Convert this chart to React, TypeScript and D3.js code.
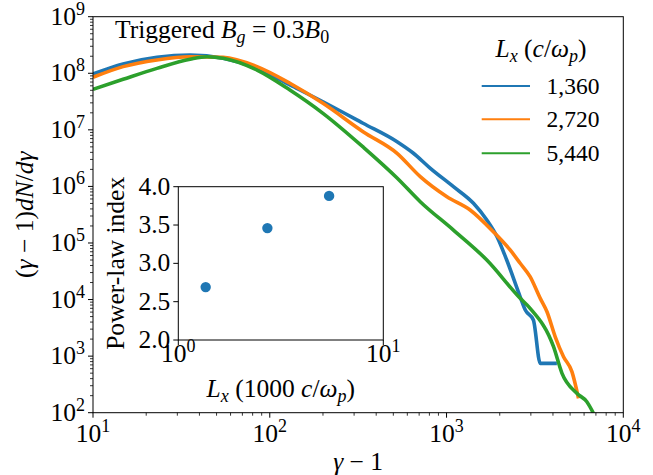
import React from 'react';
import * as d3 from 'd3';

// ---- data ----
const seriesLabels = ['1,360', '2,720', '5,440'];
const seriesColors = ['#1f77b4', '#ff7f0e', '#2ca02c'];

const blueGamma = [10, 14.8, 23.0, 35.4, 54.5, 84.7, 130, 200, 337, 525, 647, 807, 1094, 1420, 1690, 1930, 2190, 2610, 2790, 3100, 3390, 4210];
const blueDist = [9.7e7, 1.46e8, 1.91e8, 2.1e8, 1.84e8, 1.22e8, 6.21e7, 3.14e7, 1.31e7, 6.17e6, 3.9e6, 2.11e6, 9.89e5, 5.02e5, 2.55e5, 1.29e5, 5.0e4, 1.12e4, 6530, 4360, 746, 746];

const orangeGamma = [10, 14.8, 23.0, 35.4, 54.5, 84.7, 130, 200, 337, 525, 710, 1005, 1360, 1840, 2290, 2610, 2970, 3390, 3700, 4120, 4590, 5120, 5580];
const orangeDist = [8.49e7, 1.31e8, 1.72e8, 1.96e8, 1.91e8, 1.31e8, 6.65e7, 2.94e7, 9.27e6, 3.85e6, 1.49e6, 6.58e5, 3.83e5, 1.58e5, 7.52e4, 4.38e4, 2.54e4, 1.05e4, 6100, 2200, 977, 531, 179];

const greenGamma = [10, 14.8, 23.0, 35.4, 44.2, 54.5, 84.7, 130, 200, 337, 525, 710, 1094, 1690, 2610, 2970, 4030, 4500, 5460, 6220, 6780];
const greenDist = [5.21e7, 7.82e7, 1.22e8, 1.77e8, 1.96e8, 1.84e8, 1.14e8, 5.06e7, 1.96e7, 4.98e6, 1.41e6, 5.37e5, 1.69e5, 5.0e4, 1.05e4, 7000, 1470, 497, 220, 156, 97.5];

const insetLx = [1.36, 2.72, 5.44];
const insetIndex = [2.69, 3.46, 3.88];

const xTickExps = [1, 2, 3, 4];
const yTickExps = [2, 3, 4, 5, 6, 7, 8, 9];
const insetYTicks = [2.0, 2.5, 3.0, 3.5, 4.0];
const insetXTickExps = [0, 1];

// ---- layout ----
const W = 653;
const H = 475;
const M = { left: 93, right: 623.3, top: 16.7, bottom: 412.7 };
const I = { left: 178.3, right: 383.3, top: 186.7, bottom: 340 };
const FONT = '"Liberation Serif", "Times New Roman", serif';
const FS = 25.5;
const SUP = 18;

function Pow10({ x, y, e, anchor }: { x: number; y: number; e: number; anchor: string }) {
  return (
    <text x={x} y={y} textAnchor={anchor} fontSize={FS} fontFamily={FONT}>
      <tspan>10</tspan>
      <tspan dy={-10} fontSize={SUP}>{e}</tspan>
    </text>
  );
}

export default function App() {
  const x = d3.scaleLog().domain([10, 1e4]).range([M.left, M.right]);
  const y = d3.scaleLog().domain([1e2, 1e9]).range([M.bottom, M.top]);
  const ix = d3.scaleLog().domain([1, 10]).range([I.left, I.right]);
  const iy = d3.scaleLinear().domain([2, 4]).range([I.bottom, I.top]);

  const line = d3
    .line<[number, number]>()
    .x((d) => x(d[0]))
    .y((d) => y(d[1]))
    .curve(d3.curveMonotoneX);

  const series: [number, number][][] = [
    blueGamma.map((g, i) => [g, blueDist[i]] as [number, number]),
    orangeGamma.map((g, i) => [g, orangeDist[i]] as [number, number]),
    greenGamma.map((g, i) => [g, greenDist[i]] as [number, number]),
  ];

  const minorX: number[] = [];
  for (let k = 1; k < 4; k++) for (let m = 2; m <= 9; m++) minorX.push(m * Math.pow(10, k));
  const minorY: number[] = [];
  for (let k = 2; k < 9; k++) for (let m = 2; m <= 9; m++) minorY.push(m * Math.pow(10, k));

  const legendY = [86, 119.3, 153.3];

  return (
    <svg width={W} height={H} style={{ position: 'absolute', left: 0, top: 0, background: '#fff' }} fontFamily={FONT}>
      <defs>
        <clipPath id="plotclip">
          <rect x={M.left} y={M.top} width={M.right - M.left} height={M.bottom - M.top} />
        </clipPath>
      </defs>
      <rect x={0} y={0} width={W} height={H} fill="#fff" />

      {/* curves */}
      <g clipPath="url(#plotclip)">
        {series.map((s, i) => (
          <path key={i} d={line(s) || ''} fill="none" stroke={seriesColors[i]} strokeWidth={3.6} strokeLinejoin="round" strokeLinecap="butt" />
        ))}
      </g>

      {/* main frame */}
      <rect x={M.left} y={M.top} width={M.right - M.left} height={M.bottom - M.top} fill="none" stroke="#000" strokeWidth={1} />

      {/* x ticks */}
      {xTickExps.map((e) => (
        <g key={'xt' + e}>
          <line x1={x(Math.pow(10, e))} x2={x(Math.pow(10, e))} y1={M.bottom} y2={M.bottom + 5} stroke="#000" strokeWidth={1} />
          <Pow10 x={x(Math.pow(10, e))} y={M.bottom + 29} e={e} anchor="middle" />
        </g>
      ))}
      {minorX.map((v, i) => (
        <line key={'xm' + i} x1={x(v)} x2={x(v)} y1={M.bottom} y2={M.bottom + 3} stroke="#000" strokeWidth={0.8} />
      ))}

      {/* y ticks */}
      {yTickExps.map((e) => (
        <g key={'yt' + e}>
          <line x1={M.left - 5} x2={M.left} y1={y(Math.pow(10, e))} y2={y(Math.pow(10, e))} stroke="#000" strokeWidth={1} />
          <Pow10 x={M.left - 8} y={y(Math.pow(10, e)) + 8} e={e} anchor="end" />
        </g>
      ))}
      {minorY.map((v, i) => (
        <line key={'ym' + i} x1={M.left - 3} x2={M.left} y1={y(v)} y2={y(v)} stroke="#000" strokeWidth={0.8} />
      ))}

      {/* axis labels */}
      <text x={(M.left + M.right) / 2} y={470} textAnchor="middle" fontSize={FS}>
        <tspan fontStyle="italic">γ</tspan>
        <tspan> − 1</tspan>
      </text>
      <text transform={`translate(33,${(M.top + M.bottom) / 2}) rotate(-90)`} textAnchor="middle" fontSize={FS}>
        <tspan>(</tspan>
        <tspan fontStyle="italic">γ</tspan>
        <tspan> − 1)</tspan>
        <tspan fontStyle="italic">dN</tspan>
        <tspan>/</tspan>
        <tspan fontStyle="italic">dγ</tspan>
      </text>

      {/* title */}
      <text x={115} y={37.7} fontSize={FS}>
        <tspan>Triggered </tspan>
        <tspan fontStyle="italic">B</tspan>
        <tspan fontStyle="italic" fontSize={SUP} dy={5}>g</tspan>
        <tspan dy={-5}> = 0.3</tspan>
        <tspan fontStyle="italic">B</tspan>
        <tspan fontSize={SUP} dy={5}>0</tspan>
      </text>

      {/* legend */}
      <text x={541} y={57.3} textAnchor="middle" fontSize={FS}>
        <tspan fontStyle="italic">L</tspan>
        <tspan fontStyle="italic" fontSize={SUP} dy={5}>x</tspan>
        <tspan dy={-5}> (</tspan>
        <tspan fontStyle="italic">c</tspan>
        <tspan>/</tspan>
        <tspan fontStyle="italic">ω</tspan>
        <tspan fontStyle="italic" fontSize={SUP} dy={5}>p</tspan>
        <tspan dy={-5}>)</tspan>
      </text>
      {seriesLabels.map((lab, i) => (
        <g key={'lg' + i}>
          <line x1={481.7} x2={530} y1={legendY[i]} y2={legendY[i]} stroke={seriesColors[i]} strokeWidth={2} />
          <text x={546.5} y={legendY[i] + 8} fontSize={23.5}>{lab}</text>
        </g>
      ))}

      {/* inset */}
      <rect x={I.left} y={I.top} width={I.right - I.left} height={I.bottom - I.top} fill="#fff" stroke="#000" strokeWidth={1} />
      {insetLx.map((v, i) => (
        <circle key={'ip' + i} cx={ix(v)} cy={iy(insetIndex[i])} r={5.2} fill="#1f77b4" />
      ))}
      {insetYTicks.map((t) => (
        <g key={'iyt' + t}>
          <line x1={I.left - 5} x2={I.left} y1={iy(t)} y2={iy(t)} stroke="#000" strokeWidth={1} />
          <text x={I.left - 8} y={iy(t) + 8} textAnchor="end" fontSize={FS}>{t.toFixed(1)}</text>
        </g>
      ))}
      {insetXTickExps.map((e) => (
        <g key={'ixt' + e}>
          <line x1={ix(Math.pow(10, e))} x2={ix(Math.pow(10, e))} y1={I.bottom} y2={I.bottom + 5} stroke="#000" strokeWidth={1} />
          <Pow10 x={ix(Math.pow(10, e))} y={I.bottom + 22} e={e} anchor="middle" />
        </g>
      ))}
      <text x={(I.left + I.right) / 2} y={396.5} textAnchor="middle" fontSize={FS}>
        <tspan fontStyle="italic">L</tspan>
        <tspan fontStyle="italic" fontSize={SUP} dy={5}>x</tspan>
        <tspan dy={-5}> (1000 </tspan>
        <tspan fontStyle="italic">c</tspan>
        <tspan>/</tspan>
        <tspan fontStyle="italic">ω</tspan>
        <tspan fontStyle="italic" fontSize={SUP} dy={5}>p</tspan>
        <tspan dy={-5}>)</tspan>
      </text>
      <text transform={`translate(124,${(I.top + I.bottom) / 2}) rotate(-90)`} textAnchor="middle" fontSize={FS}>
        Power-law index
      </text>
    </svg>
  );
}
